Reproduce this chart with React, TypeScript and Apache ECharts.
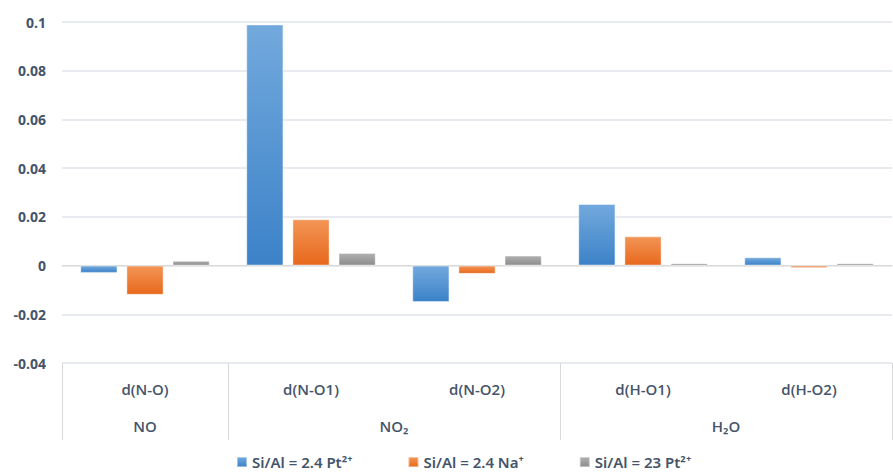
import React, { useEffect, useRef } from "react";
import * as echarts from "echarts";

const categories = ["d(N-O)", "d(N-O1)", "d(N-O2)", "d(H-O1)", "d(H-O2)"];
const groupLabels = ["NO", "NO₂", "H₂O"];
const groupCenters = [0.5, 2, 4];
const groupBounds = [0, 1, 3, 5];
const seriesNames = ["Si/Al = 2.4 Pt²⁺", "Si/Al = 2.4 Na⁺", "Si/Al = 23 Pt²⁺"];
const ptLow = [-0.003, 0.099, -0.015, 0.0253, 0.0034];
const naLow = [-0.012, 0.019, -0.0034, 0.012, -0.001];
const ptHigh = [0.002, 0.0052, 0.0041, 0.001, 0.001];
const yTicks = { min: -0.04, max: 0.1, interval: 0.02 };

const grad = (top: string, bottom: string) =>
  new echarts.graphic.LinearGradient(0, 0, 0, 1, [
    { offset: 0, color: top },
    { offset: 1, color: bottom },
  ]);

export default function App() {
  const ref = useRef<HTMLDivElement>(null);
  useEffect(() => {
    if (!ref.current) return;
    const chart = echarts.init(ref.current, undefined, { renderer: "svg" });
    const font = "Open Sans";
    const textColor = "#44546a";
    const colors = [
      ["#72a9dd", "#3c82c8"],
      ["#f29556", "#e8681c"],
      ["#b0b0b0", "#8c8c8c"],
    ];
    const data = [ptLow, naLow, ptHigh];
    chart.setOption({
      animation: false,
      textStyle: { fontFamily: font },
      grid: { left: 62, right: 1, top: 22, bottom: 112, containLabel: false },
      legend: {
        top: 453,
        left: 236,
        padding: 0,
        itemWidth: 10,
        itemHeight: 10,
        itemGap: 55,
        icon: "rect",
        textStyle: {
          fontFamily: "Noto Sans",
          fontSize: 15,
          lineHeight: 18,
          color: textColor,
          fontWeight: 600,
        },
        data: seriesNames,
      },
      xAxis: [
        {
          type: "category",
          data: categories,
          position: "bottom",
          axisLine: { show: true, lineStyle: { color: "#d9d9d9", width: 1 } },
          axisTick: { show: false },
          axisLabel: { fontSize: 15, color: textColor, fontWeight: 600, margin: 18, fontFamily: font },
          splitLine: { show: false },
        },
        {
          type: "value",
          min: 0,
          max: 5,
          position: "bottom",
          axisLine: { show: false },
          axisTick: {
            show: true,
            customValues: groupBounds,
            length: 77,
            lineStyle: { color: "#d9d9d9", width: 1 },
          },
          axisLabel: {
            customValues: groupCenters,
            formatter: (v: number) => {
              const i = groupCenters.indexOf(v);
              return i >= 0 ? groupLabels[i] : "";
            },
            fontSize: 15,
            fontWeight: 600,
            color: textColor,
            margin: 55,
            fontFamily: font,
          },
          splitLine: { show: false },
        },
      ],
      yAxis: {
        type: "value",
        min: yTicks.min,
        max: yTicks.max,
        interval: yTicks.interval,
        axisLine: { show: false },
        axisTick: { show: false },
        axisLabel: {
          fontSize: 14,
          fontWeight: "bold",
          color: textColor,
          margin: 16,
          fontFamily: font,
          formatter: (v: number) => String(Math.round(v * 100) / 100),
        },
        splitLine: { lineStyle: { color: "#dfe3e8", width: 1.5 } },
      },
      series: seriesNames.map((name, i) => ({
        name,
        type: "bar",
        xAxisIndex: 0,
        data: data[i],
        barGap: "24%",
        barCategoryGap: "22%",
        itemStyle: {
          color: grad(colors[i][0], colors[i][1]),
          borderColor: "rgba(255,255,255,0.45)",
          borderWidth: 1,
        },
      })),
    });
    return () => chart.dispose();
  }, []);
  return (
    <div
      ref={ref}
      style={{ position: "fixed", left: 0, top: 0, width: 893, height: 475, background: "#fff" }}
    />
  );
}
